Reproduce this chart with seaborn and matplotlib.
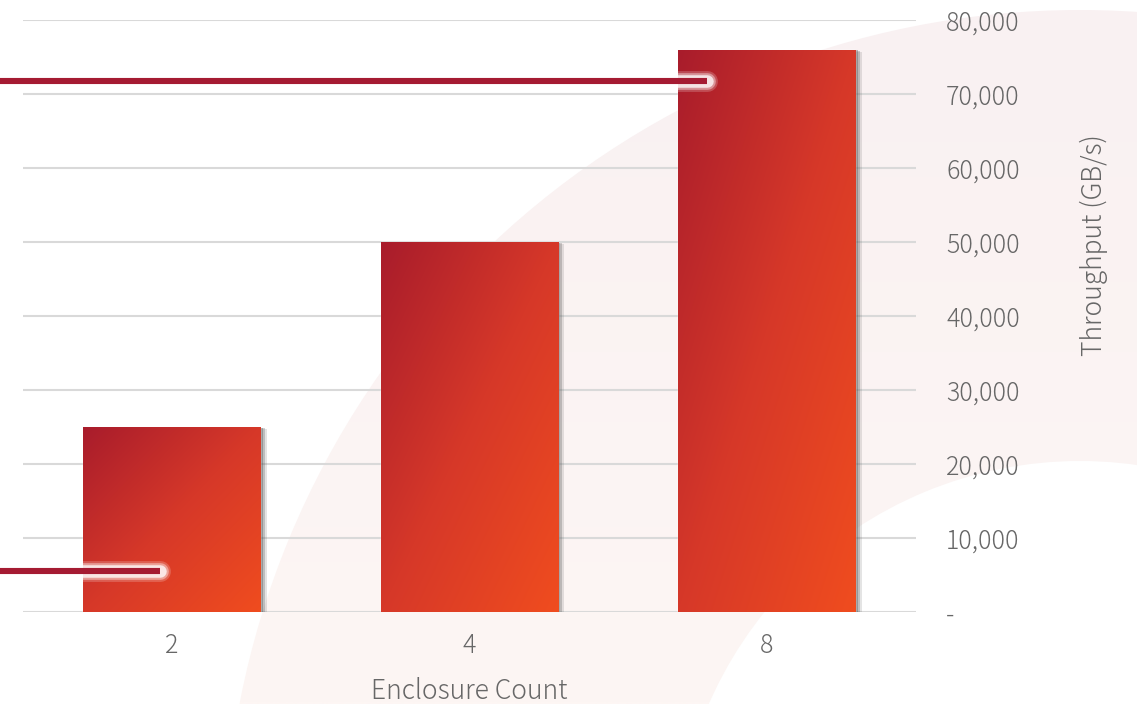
import numpy as np
import pandas as pd
import matplotlib
matplotlib.use("Agg")
import matplotlib.pyplot as plt
import matplotlib.patheffects as pe
from matplotlib.patches import Wedge
import seaborn as sns

# ---- data -------------------------------------------------------------
enclosures = ["2", "4", "8"]
throughput = [25000, 50000, 76000]          # GB/s per enclosure count
ref_levels = [71800, 5500]                  # horizontal reference markers
y_ticks = [0, 10000, 20000, 30000, 40000, 50000, 60000, 70000, 80000]

# ---- style ------------------------------------------------------------
sns.set_style("white")
plt.rcParams["font.family"] = ["Noto Sans CJK JP", "DejaVu Sans"]
plt.rcParams["font.weight"] = "light"
TEXT = "#676767"
GRID = "#d9d9d9"
LINE = "#a51b32"
C_DARK = np.array([0.66, 0.11, 0.17])
C_MID = np.array([0.84, 0.22, 0.16])
C_LIGHT = np.array([0.94, 0.30, 0.12])

W, H = 1137, 704
fig = plt.figure(figsize=(W / 100, H / 100), dpi=100)
fig.patch.set_facecolor("white")

# decorative ring in the background
bg = fig.add_axes([0, 0, 1, 1], zorder=0)
bg.set_xlim(0, W)
bg.set_ylim(H, 0)
bg.axis("off")
ring = Wedge((1080, 866), 856, 0, 360, width=451, facecolor="none", edgecolor="none")
bg.add_patch(ring)
gy = np.linspace(0, 1, 200)[:, None, None]
top_c = np.array([249, 241, 242]) / 255
bot_c = np.array([253, 246, 244]) / 255
grad_bg = top_c * (1 - gy) + bot_c * gy
grad_bg = np.repeat(grad_bg, 2, axis=1)
im = bg.imshow(grad_bg, extent=[0, W, H, 0], aspect="auto", interpolation="bilinear")
im.set_clip_path(ring)
bg.set_xlim(0, W)
bg.set_ylim(H, 0)

# main chart
ax = fig.add_axes([23 / W, 92 / H, 892.5 / W, 592 / H], zorder=1)
ax.patch.set_alpha(0)

df = pd.DataFrame({"Enclosure Count": enclosures, "Throughput": throughput})
sns.barplot(data=df, x="Enclosure Count", y="Throughput", width=0.595,
            color=C_MID, ax=ax, zorder=3, saturation=1)

ax.set_ylim(0, 80000)
ax.set_xlim(-0.5, len(enclosures) - 0.5)
ax.set_yticks(y_ticks)
ax.set_yticklabels([f"{v:,.0f}" if v else "-" for v in y_ticks])
ax.yaxis.tick_right()
ax.yaxis.set_label_position("right")
for v in y_ticks:
    ax.axhline(v, color=GRID, lw=1.5, zorder=1)
for s in ax.spines.values():
    s.set_visible(False)
ax.tick_params(axis="both", length=0, labelsize=18, labelcolor=TEXT)
ax.tick_params(axis="y", pad=22)
ax.tick_params(axis="x", pad=15)

# gradient fill and soft shadow on each bar
rows, cols = 200, 80
v = np.linspace(0, 1, rows)[:, None]
u = np.linspace(0, 1, cols)[None, :]
t = ((u + v) / 2)[..., None]
grad = np.where(t < 0.5,
                C_DARK * (1 - t / 0.5) + C_MID * (t / 0.5),
                C_MID * (1 - (t - 0.5) / 0.5) + C_LIGHT * ((t - 0.5) / 0.5))
shadow = (0.3, 0.3, 0.3)
for bar in ax.patches:
    bar.set_path_effects([
        pe.SimplePatchShadow(offset=(4.5, -1.5), shadow_rgbFace=shadow, alpha=0.15),
        pe.SimplePatchShadow(offset=(3.2, -1.0), shadow_rgbFace=shadow, alpha=0.25),
        pe.SimplePatchShadow(offset=(1.8, -0.6), shadow_rgbFace=shadow, alpha=0.35),
        pe.Normal(),
    ])
    x0, y0 = bar.get_x(), bar.get_y()
    bw, bh = bar.get_width(), bar.get_height()
    g = ax.imshow(grad, extent=[x0, x0 + bw, y0, y0 + bh], origin="upper",
                  aspect="auto", zorder=3.5, interpolation="bilinear")
    g.set_clip_path(bar)
ax.set_xlim(-0.5, len(enclosures) - 0.5)
ax.set_ylim(0, 80000)

# reference markers: run in from the left edge and stop inside a bar
line_stops = [2 - 0.2, 0 - 0.04]
glow = [
    pe.Stroke(linewidth=15, foreground="white", alpha=0.2, capstyle="round"),
    pe.Stroke(linewidth=12, foreground="white", alpha=0.4, capstyle="round"),
    pe.Stroke(linewidth=9, foreground="white", alpha=0.75, capstyle="round"),
    pe.Normal(),
]
for lvl, stop in zip(ref_levels, line_stops):
    ax.plot([-0.6, stop], [lvl, lvl], color=LINE, lw=4.4, solid_capstyle="butt",
            zorder=5, clip_on=False, path_effects=glow)

ax.set_xlabel("Enclosure Count", fontsize=19, color=TEXT, labelpad=13,
              fontweight="light")
ax.set_ylabel("")
fig.text(1094 / W, 1 - 245 / H, "Throughput (GB/s)", rotation=90, fontsize=19,
         color=TEXT, ha="center", va="center", fontweight="light")

fig.savefig("out.png", dpi=100)
